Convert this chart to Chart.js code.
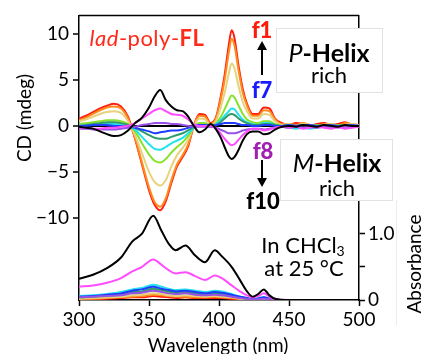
<!DOCTYPE html>
<html>
<head>
<meta charset="utf-8">
<script src="https://cdn.jsdelivr.net/npm/chart.js@4/dist/chart.umd.min.js"></script>
<style>
  body { margin: 0; background: #fff; }
  #wrap { position: relative; width: 422px; height: 354px; font-family: 'Lato', sans-serif; color: #000; overflow: hidden; }
  #cd { position: absolute; left: 0; top: 0; }
  .lbl { position: absolute; transform: translate(-50%, -50%); white-space: nowrap; line-height: 1; }
  .box { position: absolute; background: #fff; border: 1px solid #e2e2e2; box-sizing: border-box; }
  .rot { transform: translate(-50%, -50%) rotate(-90deg); }
  svg { position: absolute; left: 0; top: 0; }
</style>
</head>
<body>
<div id="wrap">
  <canvas id="cd" width="422" height="354"></canvas>

  <div class="lbl" style="left:147px; top:38px; font-size:22px; color:#ff2a1a; letter-spacing:0.5px;"><i>lad</i>-poly-<b>FL</b></div>

  <div class="lbl" style="left:262px; top:30px; font-size:22px; font-weight:900; color:#ff1a0a;">f1</div>
  <div class="lbl" style="left:262px; top:90px; font-size:22px; font-weight:900; color:#1a1aff;">f7</div>
  <div class="lbl" style="left:263px; top:151px; font-size:22px; font-weight:900; color:#a020b0;">f8</div>
  <div class="lbl" style="left:263px; top:201px; font-size:22px; font-weight:900; color:#000;">f10</div>

  <svg width="422" height="354">
    <line x1="262" y1="75" x2="262" y2="48" stroke="#000" stroke-width="2"/>
    <polygon points="257,50 267,50 262,41" fill="#000"/>
    <line x1="262" y1="160" x2="262" y2="180" stroke="#000" stroke-width="2"/>
    <polygon points="257,178 267,178 262,187" fill="#000"/>
  </svg>

  <div class="box" style="left:276px; top:28px; width:107px; height:65px;"></div>
  <div class="lbl" style="left:329px; top:52px; font-size:25px;"><i>P</i><b>-Helix</b></div>
  <div class="lbl" style="left:329px; top:75px; font-size:22px;">rich</div>

  <div class="box" style="left:280px; top:139px; width:113px; height:62px;"></div>
  <div class="lbl" style="left:337px; top:162px; font-size:25px;"><i>M</i><b>-Helix</b></div>
  <div class="lbl" style="left:337px; top:188px; font-size:22px;">rich</div>

  <div class="lbl" style="left:303px; top:246px; font-size:22px;">In CHCl<sub style="font-size:14px; vertical-align:-3px;">3</sub></div>
  <div class="lbl" style="left:304px; top:268px; font-size:22px;">at 25 °C</div>

  <div class="box" style="left:396px; top:200px; width:30px; height:125px; border:none; border-left:1px solid #ececec;"></div>
  <div class="lbl rot" style="left:413px; top:264px; font-size:19px;">Absorbance</div>
  <div class="lbl rot" style="left:23px; top:118px; font-size:19px;">CD (mdeg)</div>
  <div class="lbl" style="left:218px; top:344px; font-size:19px;">Wavelength (nm)</div>
</div>

<script>
// wavelength grid (nm) for the CD spectra
const WL_CD = [300, 305, 310, 315, 320, 325, 330, 335, 340, 345, 350,
  354, 358, 362, 366, 370, 374, 378, 382, 386, 390, 394, 398,
  401, 404, 407, 409, 411, 414, 417, 420, 424, 428, 432, 436, 440,
  445, 450, 455, 460, 465, 470, 475, 480, 485, 490, 495, 500];

// CD (mdeg), fractions f1..f10
const cdF1 = [0.8, 1.1, 1.5, 1.9, 2.2, 2.4, 2.1, 1.0, -1.4, -4.2, -7.0,
  -8.6, -9.2, -8.2, -6.2, -4.4, -3.4, -2.2, 0.0, 1.3, 1.2, 0.3, 1.0,
  3.0, 5.5, 8.8, 10.4, 9.6, 6.5, 4.0, 2.4, 1.3, 1.3, 2.0, 1.9, 0.8,
  0.3, 0.1, 0.3, 0.2, 0.0, 0.2, 0.3, 0.1, 0.2, 0.4, 0.1, 0.0];
const cdF2 = [0.6, 0.9, 1.3, 1.7, 2.0, 2.1, 1.9, 0.8, -1.3, -4.0, -6.7,
  -8.3, -8.8, -7.9, -5.9, -4.2, -3.2, -2.0, 0.0, 1.1, 1.0, 0.2, 0.9,
  2.7, 5.0, 8.0, 9.5, 8.8, 6.0, 3.6, 2.2, 1.1, 1.1, 1.7, 1.6, 0.7,
  0.2, 0.2, 0.1, 0.3, 0.1, 0.0, 0.2, 0.2, 0.0, 0.3, 0.2, 0.1];
const cdF3 = [0.5, 0.7, 1.0, 1.3, 1.5, 1.6, 1.4, 0.5, -1.0, -3.0, -5.0,
  -6.1, -6.5, -5.9, -4.4, -3.2, -2.4, -1.5, 0.0, 0.8, 0.7, 0.1, 0.6,
  1.9, 3.6, 5.7, 6.8, 6.3, 4.3, 2.6, 1.6, 0.8, 0.8, 1.3, 1.2, 0.5,
  0.1, 0.2, 0.0, 0.2, 0.1, -0.1, 0.1, 0.2, 0.0, 0.1, 0.2, 0.0];
const cdF4 = [0.2, 0.3, 0.4, 0.5, 0.6, 0.6, 0.5, 0.2, -0.6, -1.9, -3.1,
  -3.8, -4.0, -3.6, -2.9, -2.3, -1.8, -1.1, -0.2, 0.3, 0.3, 0.0, 0.3,
  0.9, 1.8, 2.8, 3.3, 3.1, 2.2, 1.3, 0.7, 0.4, 0.3, 0.5, 0.5, 0.2,
  0.0, 0.1, -0.1, 0.1, 0.0, 0.1, -0.1, 0.0, 0.1, 0.0, -0.1, 0.0];
const cdF5 = [0.0, 0.1, 0.1, 0.2, 0.2, 0.2, 0.1, 0.0, -0.4, -1.2, -2.0,
  -2.5, -2.6, -2.3, -1.9, -1.6, -1.3, -0.8, -0.2, 0.1, 0.1, -0.1, 0.2,
  0.6, 1.1, 1.6, 1.9, 1.8, 1.2, 0.7, 0.4, 0.2, 0.1, 0.3, 0.3, 0.1,
  -0.1, -0.2, -0.3, -0.2, -0.3, -0.2, -0.1, -0.2, -0.1, 0.0, -0.1, 0.0];
const cdF6 = [0.0, 0.1, 0.2, 0.3, 0.4, 0.4, 0.3, 0.1, -0.2, -0.6, -1.0,
  -1.3, -1.4, -1.4, -1.2, -1.0, -0.8, -0.5, -0.1, 0.1, 0.1, 0.0, 0.1,
  0.4, 0.8, 1.2, 1.3, 1.2, 0.8, 0.5, 0.3, 0.1, 0.1, 0.2, 0.2, 0.1,
  0.0, 0.1, 0.0, 0.1, 0.0, 0.0, 0.1, 0.0, 0.0, 0.1, 0.0, 0.0];
const cdF7 = [0.0, 0.0, 0.1, 0.1, 0.1, 0.0, 0.0, -0.1, -0.2, -0.4, -0.6,
  -0.8, -0.7, -0.6, -0.5, -0.5, -0.4, -0.2, 0.0, 0.1, 0.1, 0.0, 0.1,
  0.2, 0.3, 0.3, 0.3, 0.3, 0.2, 0.1, 0.1, 0.0, 0.0, 0.1, 0.1, 0.0,
  0.0, 0.1, 0.0, 0.1, 0.1, 0.0, 0.0, 0.1, 0.0, 0.0, 0.1, 0.0];
const cdF8 = [-0.3, -0.3, -0.4, -0.4, -0.4, -0.4, -0.3, -0.2, -0.1, 0.1, 0.2,
  0.3, 0.3, 0.3, 0.2, 0.2, 0.1, 0.0, -0.1, -0.1, -0.1, -0.1, -0.2,
  -0.4, -0.6, -0.8, -0.8, -0.8, -0.7, -0.5, -0.4, -0.3, -0.3, -0.4, -0.3, -0.2,
  -0.1, -0.2, -0.1, -0.2, -0.1, -0.2, -0.1, -0.1, -0.2, -0.1, -0.1, 0.0];
const cdF9 = [-0.2, -0.2, -0.3, -0.3, -0.2, -0.2, -0.1, 0.0, 0.3, 0.8, 1.3,
  1.7, 1.9, 1.6, 1.3, 1.2, 1.1, 0.7, 0.2, 0.0, 0.0, 0.0, -0.3,
  -0.8, -1.4, -1.9, -2.1, -2.0, -1.5, -1.0, -0.6, -0.3, -0.3, -0.5, -0.4, -0.2,
  -0.1, -0.2, -0.1, -0.3, -0.2, -0.1, -0.2, -0.3, -0.1, -0.3, -0.2, -0.1];
const cdF10 = [-0.1, -0.2, -0.3, -0.6, -0.9, -1.1, -1.0, -0.5, 0.3, 0.9, 2.0,
  3.2, 3.9, 2.8, 2.1, 1.7, 1.6, 1.0, 0.0, -0.7, -0.4, 0.2, -0.4,
  -1.2, -2.3, -3.3, -3.6, -3.4, -2.6, -1.6, -0.9, -0.6, -0.6, -0.9, -0.8, -0.4,
  -0.1, 0.0, -0.1, 0.1, 0.0, -0.1, 0.1, 0.0, -0.1, 0.1, 0.0, 0.0];

// wavelength grid (nm) for the absorption spectra
const WL_ABS = [300, 310, 320, 330, 338, 345, 353, 359, 364, 369, 376, 383, 390,
  397, 402, 409, 415, 420, 424, 428, 432, 436, 440, 450, 500];

const absF1 = [0.01, 0.01, 0.02, 0.03, 0.04, 0.04, 0.06, 0.05, 0.04, 0.03, 0.04, 0.03, 0.03,
  0.03, 0.03, 0.02, 0.01, 0.01, 0.0, 0.0, 0.01, 0.0, 0.0, 0.0, 0.0];
const absF2 = [0.02, 0.02, 0.03, 0.04, 0.05, 0.06, 0.08, 0.07, 0.06, 0.05, 0.05, 0.04, 0.04,
  0.05, 0.04, 0.03, 0.02, 0.01, 0.0, 0.01, 0.01, 0.0, 0.0, 0.0, 0.0];
const absF3 = [0.02, 0.03, 0.04, 0.05, 0.07, 0.08, 0.10, 0.09, 0.07, 0.06, 0.07, 0.06, 0.05,
  0.06, 0.05, 0.04, 0.02, 0.01, 0.0, 0.01, 0.02, 0.01, 0.0, 0.0, 0.0];
const absF4 = [0.04, 0.05, 0.06, 0.08, 0.11, 0.12, 0.15, 0.13, 0.11, 0.10, 0.11, 0.09, 0.08,
  0.09, 0.08, 0.06, 0.03, 0.02, 0.01, 0.02, 0.03, 0.01, 0.0, 0.0, 0.0];
const absF5 = [0.06, 0.07, 0.09, 0.12, 0.16, 0.18, 0.23, 0.20, 0.17, 0.15, 0.16, 0.14, 0.12,
  0.14, 0.13, 0.09, 0.05, 0.03, 0.02, 0.03, 0.04, 0.02, 0.0, 0.0, 0.0];
const absF6 = [0.04, 0.05, 0.07, 0.09, 0.12, 0.13, 0.17, 0.15, 0.13, 0.11, 0.12, 0.10, 0.09,
  0.10, 0.09, 0.06, 0.04, 0.02, 0.01, 0.02, 0.03, 0.01, 0.0, 0.0, 0.0];
const absF7 = [0.05, 0.06, 0.08, 0.10, 0.14, 0.16, 0.20, 0.17, 0.15, 0.13, 0.14, 0.12, 0.10,
  0.12, 0.11, 0.08, 0.05, 0.03, 0.01, 0.02, 0.04, 0.02, 0.0, 0.0, 0.0];
const absF8 = [0.04, 0.05, 0.06, 0.07, 0.10, 0.11, 0.14, 0.12, 0.10, 0.09, 0.10, 0.08, 0.07,
  0.08, 0.07, 0.05, 0.03, 0.02, 0.01, 0.01, 0.02, 0.01, 0.0, 0.0, 0.0];
const absF9 = [0.20, 0.22, 0.26, 0.33, 0.43, 0.50, 0.61, 0.53, 0.45, 0.40, 0.42, 0.36, 0.30,
  0.37, 0.33, 0.22, 0.13, 0.07, 0.04, 0.06, 0.10, 0.05, 0.01, 0.0, 0.0];
const absF10 = [0.32, 0.38, 0.48, 0.64, 0.88, 1.00, 1.27, 1.04, 0.85, 0.75, 0.82, 0.67, 0.57,
  0.75, 0.66, 0.50, 0.30, 0.13, 0.05, 0.09, 0.16, 0.07, 0.02, 0.0, 0.0];

// axis ticks
const X_TICKS = [300, 350, 400, 450, 500];
const CD_TICKS = [-10, -5, 0, 5, 10];
const ABS_TICKS = [0, 0.5, 1.0];

const fractionColors = ['#ff1e10', '#ff8a1c', '#e6d27c', '#86e22a', '#22e2ee',
  '#2f9a6a', '#1e3cff', '#9850e6', '#ff4cff', '#000000'];

const cdSeries = [cdF1, cdF2, cdF3, cdF4, cdF5, cdF6, cdF7, cdF8, cdF9, cdF10];
const absSeries = [absF1, absF2, absF3, absF4, absF5, absF6, absF7, absF8, absF9, absF10];

function toPoints(xs, ys) {
  return xs.map((x, i) => ({ x: x, y: ys[i] }));
}

const datasets = [];
// dataset 0 is drawn last, so f10 (black) goes first and ends up on top
for (let i = 9; i >= 0; i--) {
  datasets.push({
    label: 'f' + (i + 1) + ' CD',
    data: toPoints(WL_CD, cdSeries[i]),
    borderColor: fractionColors[i],
    yAxisID: 'y'
  });
}
for (let i = 9; i >= 0; i--) {
  datasets.push({
    label: 'f' + (i + 1) + ' Abs',
    data: toPoints(WL_ABS, absSeries[i]),
    borderColor: fractionColors[i],
    yAxisID: 'yAbs'
  });
}

// top edge of the frame
const frameTop = {
  id: 'frameTop',
  afterDraw(chart) {
    const { ctx, chartArea } = chart;
    ctx.save();
    ctx.strokeStyle = '#000';
    ctx.lineWidth = 1.5;
    ctx.beginPath();
    ctx.moveTo(chartArea.left, chartArea.top);
    ctx.lineTo(chartArea.right, chartArea.top);
    ctx.stroke();
    ctx.restore();
  }
};

Chart.defaults.font.family = 'Lato, sans-serif';
Chart.defaults.font.size = 19;
Chart.defaults.color = '#000';

new Chart(document.getElementById('cd'), {
  type: 'line',
  data: { datasets: datasets },
  options: {
    responsive: false,
    animation: false,
    layout: { padding: { top: 14, left: 0, right: 0, bottom: 0 } },
    plugins: { legend: { display: false }, tooltip: { enabled: false } },
    elements: {
      point: { radius: 0 },
      line: { borderWidth: 2, cubicInterpolationMode: 'monotone', fill: false }
    },
    scales: {
      x: {
        type: 'linear',
        min: 300,
        max: 500,
        afterFit: s => { s.height = 54; },
        afterBuildTicks: s => { s.ticks = X_TICKS.map(v => ({ value: v })); },
        ticks: { padding: 2, maxRotation: 0 },
        grid: { color: 'transparent', tickColor: '#000', tickLength: 6, tickWidth: 1.5 },
        border: { color: '#000', width: 1.5 }
      },
      y: {
        position: 'left',
        min: -18.96,
        max: 12.03,
        afterFit: s => { s.width = 79; },
        afterBuildTicks: s => { s.ticks = CD_TICKS.map(v => ({ value: v })); },
        ticks: { padding: 4, callback: v => (v < 0 ? '\u2212' + Math.abs(v) : String(v)) },
        grid: {
          color: c => (c.tick && c.tick.value === 0 ? '#000' : 'transparent'),
          lineWidth: 2,
          tickColor: '#000',
          tickLength: 6,
          tickWidth: 1.5
        },
        border: { color: '#000', width: 1.5 }
      },
      yAbs: {
        position: 'right',
        min: 0,
        max: 4.29,
        afterFit: s => { s.width = 63; },
        afterBuildTicks: s => { s.ticks = ABS_TICKS.map(v => ({ value: v })); },
        ticks: { padding: 3, callback: v => (v === 0 ? '0' : v === 1 ? '1.0' : '') },
        grid: { drawOnChartArea: false, tickColor: '#000', tickLength: 6, tickWidth: 1.5 },
        border: { color: '#000', width: 1.5 }
      }
    }
  },
  plugins: [frameTop]
});
</script>
</body>
</html>
